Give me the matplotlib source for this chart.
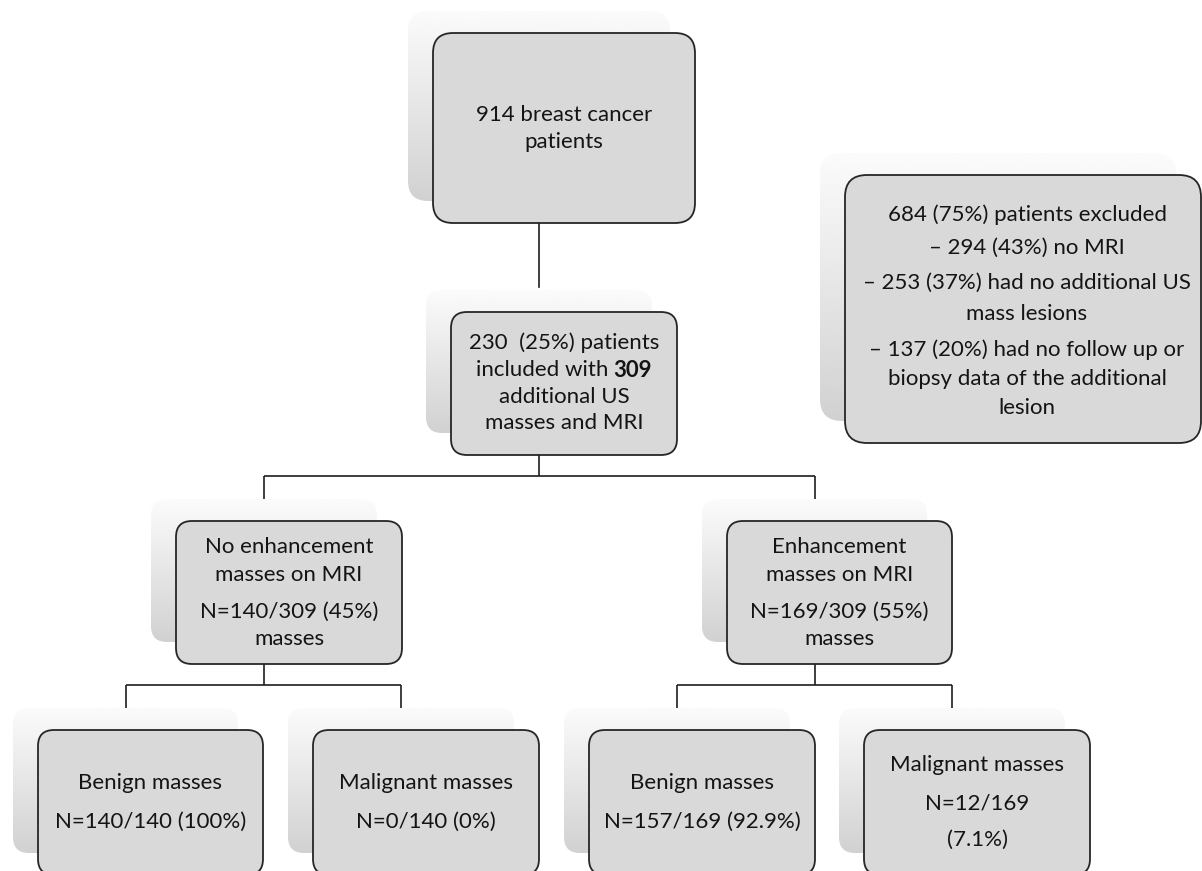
import numpy as np
import matplotlib
matplotlib.use("Agg")
import matplotlib.pyplot as plt
from matplotlib.patches import FancyBboxPatch

plt.rcParams["font.family"] = ["Lato", "DejaVu Sans"]

# Box texts (one entry per line)
top_lines = ["914 breast cancer", "patients"]
incl_lines = ["230  (25%) patients", "included with", "additional US", "masses and MRI"]
incl_bold = "309"
excl_lines = ["684 (75%) patients excluded", "\u2013 294 (43%) no MRI",
              "\u2013 253 (37%) had no additional US", "mass lesions",
              "\u2013 137 (20%) had no follow up or", "biopsy data of the additional",
              "lesion"]
noenh_lines = ["No enhancement", "masses on MRI", "N=140/309 (45%)", "masses"]
enh_lines = ["Enhancement", "masses on MRI", "N=169/309 (55%)", "masses"]
ben1_lines = ["Benign masses", "N=140/140 (100%)"]
mal1_lines = ["Malignant masses", "N=0/140 (0%)"]
ben2_lines = ["Benign masses", "N=157/169 (92.9%)"]
mal2_lines = ["Malignant masses", "N=12/169", "(7.1%)"]

W, H = 1202, 871
SHADOW_DX, SHADOW_DY = -25, -22
FS = 16

# layout in pixels: box (x0, y0, x1, y1), corner radius, line y positions
layout = {
    "top": ((433, 33, 695, 223), 20, [115, 142]),
    "incl": ((451, 312, 677, 455), 16, [343, 370, 397, 423]),
    "excl": ((845, 175, 1201, 443), 22, [215, 248, 283, 314, 350, 379, 408]),
    "noenh": ((176, 521, 402, 664), 16, [547, 575, 612, 639]),
    "enh": ((727, 521, 952, 664), 16, [547, 575, 612, 639]),
    "ben1": ((38, 730, 263, 875), 16, [783, 822]),
    "mal1": ((313, 730, 539, 875), 16, [783, 822]),
    "ben2": ((589, 730, 815, 875), 16, [783, 822]),
    "mal2": ((864, 730, 1090, 875), 16, [765, 803, 840]),
}
texts = {"top": top_lines, "incl": incl_lines, "excl": excl_lines,
         "noenh": noenh_lines, "enh": enh_lines, "ben1": ben1_lines,
         "mal1": mal1_lines, "ben2": ben2_lines, "mal2": mal2_lines}

fig = plt.figure(figsize=(W / 100, H / 100), dpi=100)
ax = fig.add_axes([0, 0, 1, 1])
ax.set_xlim(0, W)
ax.set_ylim(H, 0)
ax.axis("off")

grad = np.linspace(0.985, 0.82, 256).reshape(-1, 1)


def shadow_box(key):
    (x0, y0, x1, y1), r, _ = layout[key]
    return x0 + SHADOW_DX, y0 + SHADOW_DY, x1 + SHADOW_DX, y1 + SHADOW_DY


def draw_box(key):
    (x0, y0, x1, y1), r, _ = layout[key]
    sx0, sy0, sx1, sy1 = shadow_box(key)
    sh = FancyBboxPatch((sx0, sy0), sx1 - sx0, sy1 - sy0,
                        boxstyle=f"round,pad=0,rounding_size={r}",
                        facecolor="none", edgecolor="none", zorder=1)
    ax.add_patch(sh)
    im = ax.imshow(grad, cmap="gray", vmin=0, vmax=1, aspect="auto",
                   extent=[sx0, sx1, sy1, sy0], origin="upper", zorder=1,
                   interpolation="bicubic")
    im.set_clip_path(sh)
    box = FancyBboxPatch((x0, y0), x1 - x0, y1 - y0,
                         boxstyle=f"round,pad=0,rounding_size={r}",
                         facecolor="#d9d9d9", edgecolor="#262626",
                         linewidth=1.3, zorder=3)
    ax.add_patch(box)


def connect(parent, children, bus_y):
    px = sum(shadow_box(parent)[0::2]) / 2
    pb = layout[parent][0][3]
    kw = dict(color="#1e1e1e", linewidth=1.2, zorder=2, solid_capstyle="butt")
    ax.plot([px, px], [pb, bus_y], **kw)
    xs = [sum(shadow_box(c)[0::2]) / 2 for c in children]
    if len(xs) > 1:
        ax.plot([min(xs), max(xs)], [bus_y, bus_y], **kw)
    for c, cx in zip(children, xs):
        ax.plot([cx, cx], [bus_y, shadow_box(c)[1]], **kw)


for k in layout:
    draw_box(k)

ax.plot([539, 539], [223, 287], color="#1e1e1e", linewidth=1.2, zorder=2)
connect("incl", ["noenh", "enh"], 476)
connect("noenh", ["ben1", "mal1"], 685)
connect("enh", ["ben2", "mal2"], 685)

ax.set_xlim(0, W)
ax.set_ylim(H, 0)

txt_kw = dict(fontsize=FS, color="#141414", va="center", zorder=5)
centers = {"excl": 1027}
for k, lines in texts.items():
    (x0, y0, x1, y1), r, ys = layout[k]
    cx = centers.get(k, (x0 + x1) / 2)
    for i, (s, y) in enumerate(zip(lines, ys)):
        if k == "incl" and i == 1:
            continue
        ax.text(cx, y, s, ha="center", **txt_kw)

# mixed normal/bold line in the included box
renderer = fig.canvas.get_renderer()
(x0, y0, x1, y1), r, ys = layout["incl"]
cx = (x0 + x1) / 2
t1 = ax.text(0, ys[1], incl_lines[1], ha="left", **txt_kw)
t2 = ax.text(0, ys[1], incl_bold, ha="left", fontweight="bold", **txt_kw)
w1 = t1.get_window_extent(renderer).width
w2 = t2.get_window_extent(renderer).width
sp = FS * 0.25 * 100 / 72
start = cx - (w1 + sp + w2) / 2
t1.set_x(start)
t2.set_x(start + w1 + sp)

fig.savefig("out.png", dpi=100)
